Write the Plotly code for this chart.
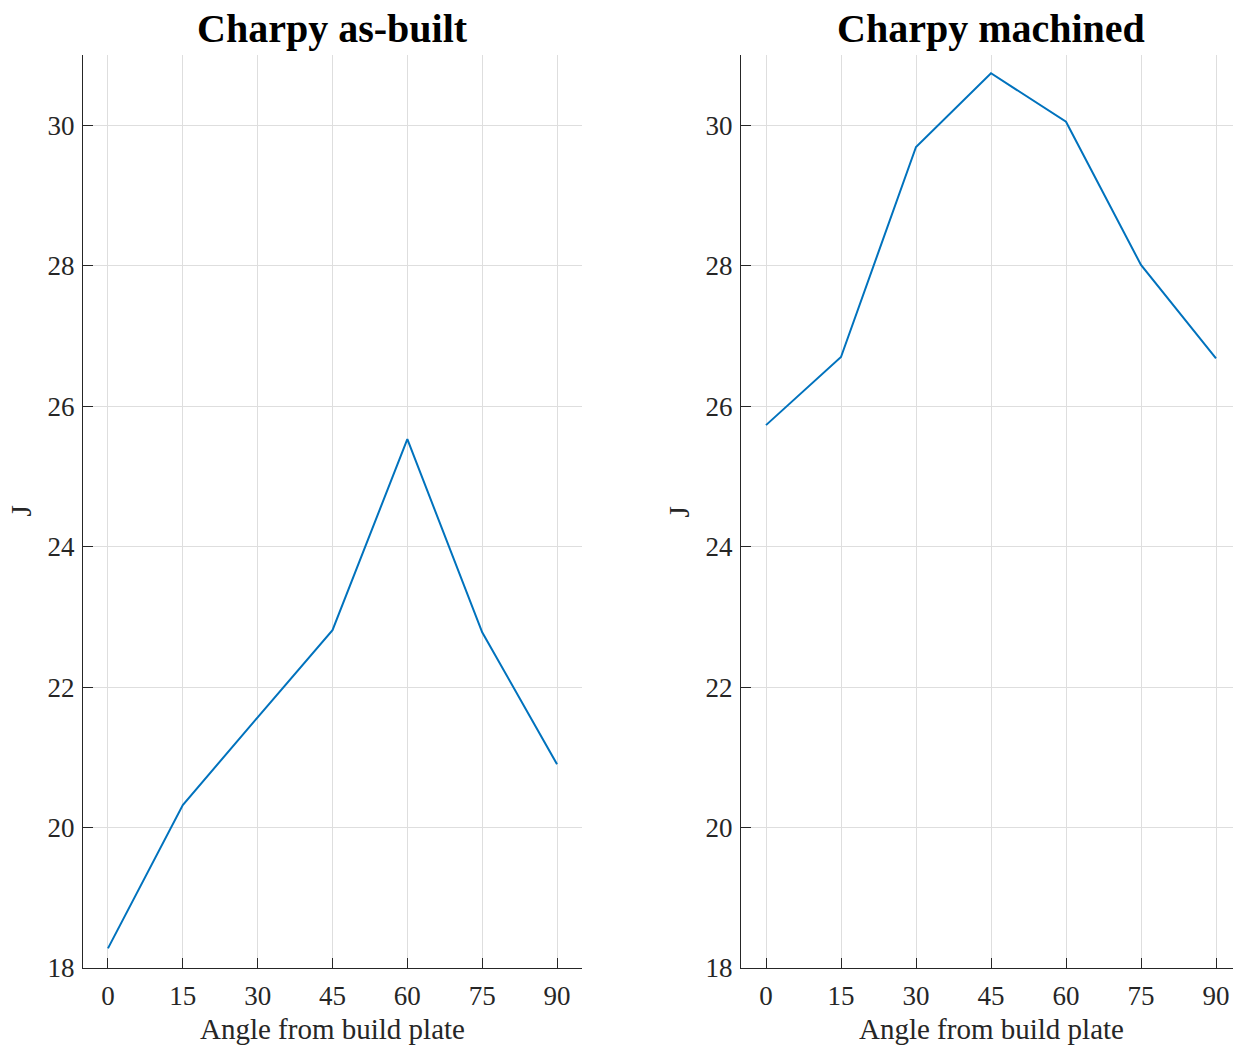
import plotly.graph_objects as go

angles = [0, 15, 30, 45, 60, 75, 90]
as_built = [18.28, 20.32, 21.57, 22.81, 25.53, 22.78, 20.90]
machined = [25.73, 26.70, 29.69, 30.74, 30.05, 28.01, 26.68]
titles = ["Charpy as-built", "Charpy machined"]
x_label = "Angle from build plate"
y_label = "J"
x_ticks = [0, 15, 30, 45, 60, 75, 90]
y_ticks = [18, 20, 22, 24, 26, 28, 30]

# page has an 8px body margin
W, H = 1233, 1040
ml, mr, mt, mb = 75, 0, 47, 80
pw = W - ml - mr
d1 = [0, (582 - 83) / pw]
d2 = [(741 - 83) / pw, 1]

font = "Liberation Serif, Times New Roman, serif"
line_col = "#0072BD"
axis_col = "#262626"
grid_col = "#dedede"

fig = go.Figure()
fig.add_trace(go.Scatter(x=angles, y=as_built, mode="lines", line=dict(color=line_col, width=2), xaxis="x", yaxis="y", showlegend=False))
fig.add_trace(go.Scatter(x=angles, y=machined, mode="lines", line=dict(color=line_col, width=2), xaxis="x2", yaxis="y2", showlegend=False))

xcommon = dict(range=[-5, 95], tickvals=x_ticks, ticks="inside", ticklen=10, tickcolor=axis_col,
               showline=True, linecolor=axis_col, linewidth=1, showgrid=True, gridcolor=grid_col,
               zeroline=False, tickfont=dict(family=font, size=27, color="#262626"), ticklabelstandoff=4)
ycommon = dict(range=[18, 31], tickvals=y_ticks, ticks="inside", ticklen=10, tickcolor=axis_col,
               showline=True, linecolor=axis_col, linewidth=1, showgrid=True, gridcolor=grid_col,
               zeroline=False, tickfont=dict(family=font, size=27, color="#262626"), ticklabelstandoff=2)

fig.update_layout(
    width=W, height=H,
    margin=dict(l=ml, r=mr, t=mt, b=mb),
    paper_bgcolor="white", plot_bgcolor="white",
    xaxis=dict(domain=d1, anchor="y", **xcommon),
    yaxis=dict(domain=[0, 1], anchor="x", **ycommon),
    xaxis2=dict(domain=d2, anchor="y2", **xcommon),
    yaxis2=dict(domain=[0, 1], anchor="x2", **ycommon),
)

annots = []
for i, d in enumerate([d1, d2]):
    cx = (d[0] + d[1]) / 2
    annots.append(dict(text="<b>" + titles[i] + "</b>", x=cx, y=1, xref="paper", yref="paper",
                       xanchor="center", yanchor="bottom", yshift=2, showarrow=False,
                       font=dict(family=font, size=40, color="black")))
    annots.append(dict(text=x_label, x=cx, y=0, xref="paper", yref="paper",
                       xanchor="center", yanchor="top", yshift=-43, showarrow=False,
                       font=dict(family=font, size=29, color="#262626")))
    annots.append(dict(text=y_label, x=d[0], y=0.5, xref="paper", yref="paper",
                       xanchor="center", yanchor="middle", xshift=-63, showarrow=False, textangle=-90,
                       font=dict(family=font, size=29, color="#262626")))
fig.update_layout(annotations=annots)

fig.write_html("out.html")
